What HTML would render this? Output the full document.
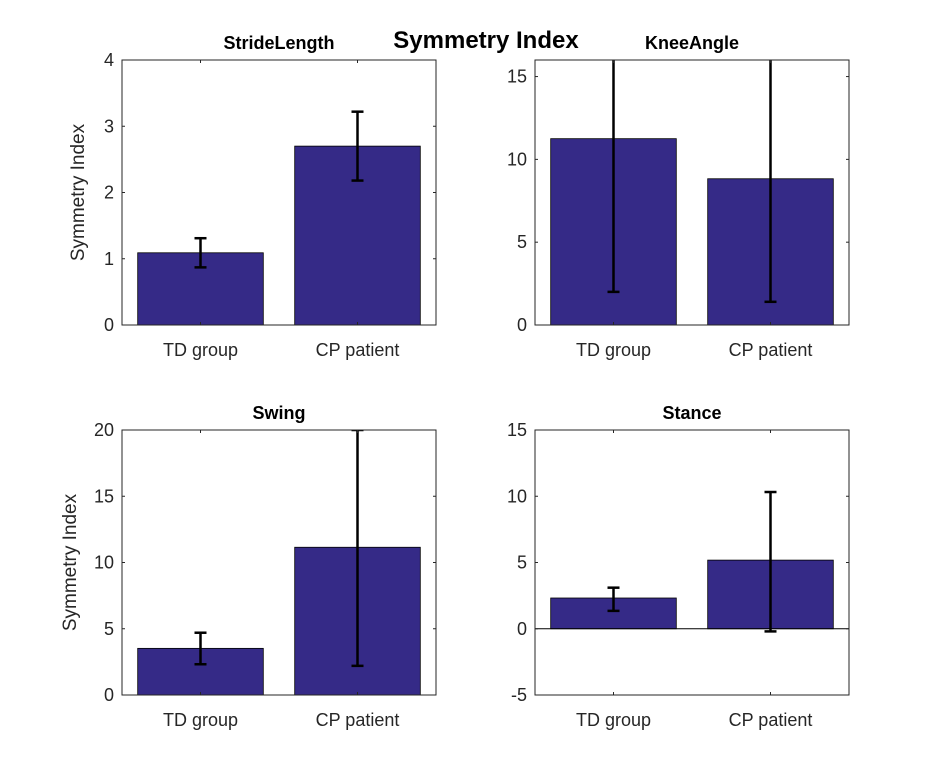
<!DOCTYPE html>
<html><head><meta charset="utf-8"><style>
body{margin:0;background:#fff;}
svg{display:block;font-family:"Liberation Sans",sans-serif;}
</style></head><body>
<svg id="fig" width="938" height="781">
<rect width="938" height="781" fill="#fff"/>
<text x="486" y="48" font-size="24" font-weight="bold" text-anchor="middle">Symmetry Index</text>
</svg>
<script>
const categories = ["TD group", "CP patient"];
const panelTitles = ["StrideLength", "KneeAngle", "Swing", "Stance"];
const means = [[1.09, 2.70], [11.25, 8.83], [3.52, 11.15], [2.32, 5.18]];
const errLow = [[0.87, 2.18], [2.0, 1.4], [2.32, 2.2], [1.35, -0.2]];
const errHigh = [[1.31, 3.22], [20.5, 16.3], [4.7, 20.0], [3.1, 10.32]];
const yMin = [0, 0, 0, -5];
const yMax = [4, 16, 20, 15];
const yTicks = [[0,1,2,3,4],[0,5,10,15],[0,5,10,15,20],[-5,0,5,10,15]];
const showYLabel = [true,false,true,false];

const NS = "http://www.w3.org/2000/svg";
const svg = document.getElementById('fig');
function mk(tag, attrs, parent){const e=document.createElementNS(NS,tag);for(const k in attrs)e.setAttribute(k,attrs[k]);(parent||svg).appendChild(e);return e;}
const boxes = [[122,60],[535,60],[122,430],[535,430]];
const W=314,H=265;
for(let p=0;p<4;p++){
  const [x0,y0]=boxes[p];
  const g=mk('g',{});
  
  
  const ys=v=>y0+H-(v-yMin[p])/(yMax[p]-yMin[p])*H;
  const xs=c=>x0+(c+1-0.5)/2*W;
  const clip=mk('clipPath',{id:'c'+p},g);
  mk('rect',{x:x0,y:y0,width:W,height:H},clip);
  const plot=mk('g',{'clip-path':'url(#c'+p+')'},g);
  const base=Math.max(yMin[p],0);
  for(let i=0;i<2;i++){
    const bw=0.8/2*W, cx=xs(i);
    const top=ys(Math.max(means[p][i],base)), bot=ys(Math.min(means[p][i],base));
    const b=mk('rect',{x:cx-bw/2,y:top,width:bw,height:bot-top,fill:'#352a87',stroke:'#000','stroke-width':0.8},plot);
    
    
    const eg=mk('g',{stroke:'#000','stroke-width':2.5},plot);
    
    
    const lo=ys(errLow[p][i]), hi=ys(errHigh[p][i]);
    mk('line',{x1:cx,x2:cx,y1:lo,y2:hi},eg);
    mk('line',{x1:cx-6,x2:cx+6,y1:lo,y2:lo},eg);
    mk('line',{x1:cx-6,x2:cx+6,y1:hi,y2:hi},eg);
  }
  if(yMin[p]<0){mk('line',{x1:x0,x2:x0+W,y1:ys(0),y2:ys(0),stroke:'#000','stroke-width':1},g);}
  mk('rect',{x:x0,y:y0,width:W,height:H,fill:'none',stroke:'#262626','stroke-width':1},g);
  yTicks[p].forEach(t=>{
    const y=ys(t);
    mk('line',{x1:x0,x2:x0+3,y1:y,y2:y,stroke:'#262626'},g);
    mk('line',{x1:x0+W,x2:x0+W-3,y1:y,y2:y,stroke:'#262626'},g);
    const tx=mk('text',{x:x0-8,y:y+6,'font-size':18,'text-anchor':'end',fill:'#262626'},g);
    tx.textContent=t;
    
    
  });
  categories.forEach((c,i)=>{
    const x=xs(i);
    mk('line',{x1:x,x2:x,y1:y0+H,y2:y0+H-3,stroke:'#262626'},g);
    mk('line',{x1:x,x2:x,y1:y0,y2:y0+3,stroke:'#262626'},g);
    const tx=mk('text',{x:x,y:y0+H+31,'font-size':18,'text-anchor':'middle',fill:'#262626'},g);
    tx.textContent=c;
    
    
  });
  const tt=mk('text',{x:x0+W/2,y:y0-11,'font-size':18,'font-weight':'bold','text-anchor':'middle'},g);
  tt.textContent=panelTitles[p];
  
  
  if(showYLabel[p]){
    const lx=x0-(p===0?38:46);
    const yl=mk('text',{x:lx,y:y0+H/2,'font-size':19,'text-anchor':'middle',fill:'#262626',transform:'rotate(-90 '+lx+' '+(y0+H/2)+')'},g);
    yl.textContent='Symmetry Index';
    
    
  }
}
</script>
</body></html>
